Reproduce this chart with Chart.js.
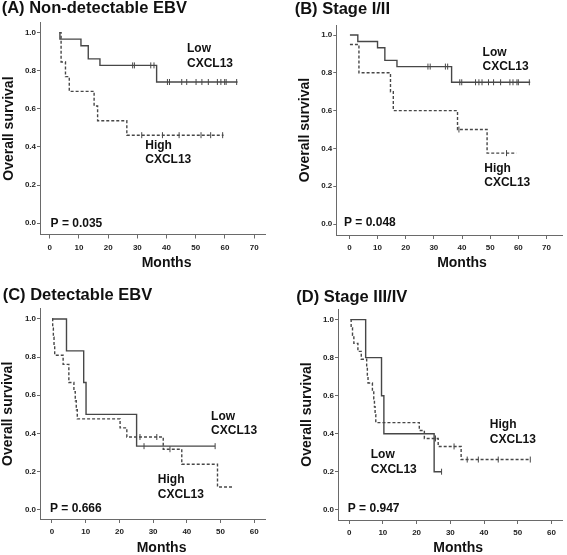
<!DOCTYPE html>
<html>
<head>
<meta charset="utf-8">
<script src="https://cdn.jsdelivr.net/npm/chart.js@4.4.1/dist/chart.umd.min.js"></script>
<style>
  html, body { margin: 0; padding: 0; background: #fff; }
  #wrap { position: relative; width: 567px; height: 555px; }
  #wrap canvas { position: absolute; }
</style>
</head>
<body>
<div id="wrap">
  <canvas id="cA" width="283" height="277" style="left:0;top:0"></canvas>
  <canvas id="cB" width="284" height="277" style="left:283px;top:0"></canvas>
  <canvas id="cC" width="283" height="278" style="left:0;top:277px"></canvas>
  <canvas id="cD" width="284" height="278" style="left:283px;top:277px"></canvas>
</div>
<script>
// tick labels
const xTicks70 = [0, 10, 20, 30, 40, 50, 60, 70];
const xTicks60 = [0, 10, 20, 30, 40, 50, 60];
const yTicks = [0, 0.2, 0.4, 0.6, 0.8, 1.0];

// (A) Non-detectable EBV
const aLowMonths = [3.3, 3.5, 10.7, 13.2, 17.2, 36.6, 64.3];
const aLowSurv = [1, 0.966, 0.931, 0.862, 0.828, 0.741, 0.741];
const aLowCensor = [28.4, 29.0, 34.6, 35.7, 40.3, 41.0, 45.2, 46.9, 50.1, 52.1, 54.3, 57.4, 58.6, 59.9, 60.4, 64.0];
const aHighMonths = [3.3, 3.9, 5.4, 6.7, 15.2, 16.4, 26.4, 59.5];
const aHighSurv = [1, 0.846, 0.769, 0.692, 0.615, 0.538, 0.462, 0.462];
const aHighCensor = [31.5, 38.6, 44.3, 51.8, 55.1, 59.2];

// (B) Stage I/II
const bLowMonths = [0.2, 3.0, 10.0, 12.6, 16.9, 36.3, 64.2];
const bLowSurv = [1, 0.966, 0.933, 0.866, 0.833, 0.75, 0.75];
const bLowCensor = [27.9, 28.7, 34.1, 34.9, 39.2, 39.9, 44.8, 46.0, 47.1, 49.4, 51.2, 53.7, 57.0, 58.1, 59.5, 60.0, 63.9];
const bHighMonths = [0.2, 3.4, 14.6, 15.6, 38.4, 48.9, 59.3];
const bHighSurv = [0.95, 0.80, 0.70, 0.60, 0.50, 0.375, 0.375];
const bHighCensor = [38.9, 55.8];

// (C) Detectable EBV
const cLowMonths = [0, 4.3, 9.4, 10.1, 25.1, 48.4];
const cLowSurv = [1, 0.833, 0.667, 0.5, 0.333, 0.333];
const cLowCensor = [27.3, 48.4];
const cHighMonths = [0, 0.2, 0.4, 0.6, 0.8, 3.3, 5.0, 6.5, 6.9, 7.2, 7.5, 20.2, 22.2, 33.0, 38.5, 49.1, 53.8];
const cHighSurv = [1, 0.952, 0.905, 0.857, 0.810, 0.762, 0.667, 0.619, 0.571, 0.524, 0.476, 0.429, 0.381, 0.317, 0.238, 0.119, 0.119];
const cHighCensor = [26.1, 31.1, 35.0];

// (D) Stage III/IV
const dLowMonths = [0.4, 4.9, 9.6, 10.3, 25.2, 27.4];
const dLowSurv = [1, 0.8, 0.6, 0.4, 0.2, 0.2];
const dLowCensor = [27.4];
const dHighMonths = [0.4, 0.6, 1.0, 1.4, 2.6, 3.6, 5.2, 5.4, 5.6, 6.9, 7.3, 7.5, 7.7, 7.9, 20.8, 22.3, 26.4, 33.2, 53.7];
const dHighSurv = [1, 0.958, 0.917, 0.875, 0.833, 0.792, 0.75, 0.708, 0.667, 0.625, 0.583, 0.542, 0.5, 0.458, 0.417, 0.375, 0.333, 0.264, 0.264];
const dHighCensor = [25.6, 31.1, 35.0, 38.3, 44.2, 53.7];

const FONT = '"Liberation Sans", Arial, sans-serif';
const LINE = '#474747';
const AXIS = '#6a6a6a';

// layout of each panel (pixels inside its own canvas)
const panels = [
  { id: 'cA', title: '(A) Non-detectable EBV', p: 'P = 0.035',
    low: [aLowMonths, aLowSurv, aLowCensor], high: [aHighMonths, aHighSurv, aHighCensor],
    xMin: -3.32, xMax: 73.7, xTicks: xTicks70, yMin: -0.059, yMax: 1.052,
    area: { left: 40, right: 265, top: 22.7, bottom: 234.5 }, padLeft: 1.7, titlePad: 0, yTitlePad: 0.6,
    pAt: [0.3, 0], lowAt: [47.0, 0.916, 0.839], highAt: [32.7, 0.406, 0.332], monthsAt: 40, monthsBottom: 14 },
  { id: 'cB', title: '(B) Stage I/II', p: 'P = 0.048',
    low: [bLowMonths, bLowSurv, bLowCensor], high: [bHighMonths, bHighSurv, bHighCensor],
    xMin: -4.64, xMax: 75.5, xTicks: xTicks70, yMin: -0.058, yMax: 1.053,
    area: { left: 53.3, right: 283, top: 25, bottom: 235 }, padLeft: 11.7, titlePad: 1.5, yTitlePad: 3.8,
    pAt: [-1.9, 0.007], lowAt: [47.3, 0.908, 0.832], highAt: [47.9, 0.295, 0.219], monthsAt: 40, monthsBottom: 14 },
  { id: 'cC', title: '(C) Detectable EBV', p: 'P = 0.666',
    low: [cLowMonths, cLowSurv, cLowCensor], high: [cHighMonths, cHighSurv, cHighCensor],
    xMin: -3.56, xMax: 63.4, xTicks: xTicks60, yMin: -0.049, yMax: 1.054,
    area: { left: 40, right: 265.7, top: 31.7, bottom: 242 }, padLeft: 2.7, titlePad: 10.3, yTitlePad: -1.9,
    pAt: [-0.6, 0.005], lowAt: [47.2, 0.486, 0.413], highAt: [31.4, 0.157, 0.081], monthsAt: 32.5, monthsBottom: 7 },
  { id: 'cD', title: '(D) Stage III/IV', p: 'P = 0.947',
    low: [dLowMonths, dLowSurv, dLowCensor], high: [dHighMonths, dHighSurv, dHighCensor],
    xMin: -3.3, xMax: 63.1, xTicks: xTicks60, yMin: -0.054, yMax: 1.056,
    area: { left: 55, right: 282, top: 32, bottom: 243 }, padLeft: 13.3, titlePad: 12, yTitlePad: 3.9,
    pAt: [-0.4, 0.005], lowAt: [6.4, 0.289, 0.213], highAt: [41.7, 0.447, 0.368], monthsAt: 32.3, monthsBottom: 7 }
];

// survival value of a step curve at time t
function survAt(t, months, surv) {
  let s = surv[0];
  months.forEach((m, i) => { if (m <= t) s = surv[i]; });
  return s;
}

// labels, P value and x title
const panelText = {
  id: 'panelText',
  afterDraw(chart, args, opts) {
    const { ctx, scales: { x, y } } = chart;
    ctx.save();
    ctx.fillStyle = '#111';
    ctx.textBaseline = 'middle';
    ctx.textAlign = 'left';
    ctx.font = 'bold 12px ' + FONT;
    opts.items.forEach(it => ctx.fillText(it.text, x.getPixelForValue(it.x), y.getPixelForValue(it.y)));
    ctx.font = 'bold 14px ' + FONT;
    ctx.textAlign = 'center';
    ctx.fillText('Months', x.getPixelForValue(opts.monthsAt), chart.height - opts.monthsBottom);
    ctx.restore();
  }
};

panels.forEach(pn => {
  const W = document.getElementById(pn.id).width;
  const H = document.getElementById(pn.id).height;
  const [lt, ls, lc] = pn.low;
  const [ht, hs, hc] = pn.high;

  new Chart(document.getElementById(pn.id), {
    type: 'line',
    data: {
      datasets: [
        { data: lt.map((t, i) => ({ x: t, y: ls[i] })), stepped: 'before',
          borderColor: LINE, borderWidth: 1.4, pointRadius: 0, fill: false },
        { data: ht.map((t, i) => ({ x: t, y: hs[i] })), stepped: 'before',
          borderColor: LINE, borderWidth: 1.4, borderDash: [3, 2], pointRadius: 0, fill: false },
        { data: lc.map(t => ({ x: t, y: survAt(t, lt, ls) })), showLine: false,
          pointStyle: 'line', rotation: 90, pointRadius: 3, borderColor: LINE, borderWidth: 1 },
        { data: hc.map(t => ({ x: t, y: survAt(t, ht, hs) })), showLine: false,
          pointStyle: 'line', rotation: 90, pointRadius: 3, borderColor: LINE, borderWidth: 1 }
      ]
    },
    options: {
      responsive: false,
      animation: false,
      layout: { padding: { left: pn.padLeft, right: W - pn.area.right, top: 0, bottom: 0 } },
      scales: {
        x: {
          type: 'linear', min: pn.xMin, max: pn.xMax,
          afterBuildTicks: axis => { axis.ticks = pn.xTicks.map(v => ({ value: v })); },
          afterFit: scale => { scale.height = H - pn.area.bottom; },
          grid: { drawOnChartArea: false, drawTicks: true, tickLength: 4, color: AXIS },
          border: { display: true, color: AXIS, width: 1 },
          ticks: { font: { family: FONT, size: 8, weight: 'bold' }, color: '#222', padding: 4, maxRotation: 0 }
        },
        y: {
          type: 'linear', min: pn.yMin, max: pn.yMax,
          afterBuildTicks: axis => { axis.ticks = yTicks.map(v => ({ value: v })); },
          afterFit: scale => { scale.width = pn.area.left - pn.padLeft; },
          grid: { drawOnChartArea: false, drawTicks: true, tickLength: 3, color: AXIS },
          border: { display: true, color: AXIS, width: 1 },
          ticks: { font: { family: FONT, size: 8, weight: 'bold' }, color: '#222', padding: 1,
            callback: v => v.toFixed(1) },
          title: { display: true, text: 'Overall survival', color: '#111',
            font: { family: FONT, size: 14, weight: 'bold', lineHeight: 1 },
            padding: { top: pn.yTitlePad, bottom: 0 } }
        }
      },
      plugins: {
        legend: { display: false },
        tooltip: { enabled: false },
        title: { display: true, text: pn.title, align: 'start', color: '#111',
          font: { family: FONT, size: 16.5, weight: 'bold', lineHeight: 1 },
          padding: { top: pn.titlePad, bottom: pn.area.top - 16.5 - pn.titlePad } },
        panelText: {
          monthsAt: pn.monthsAt, monthsBottom: pn.monthsBottom,
          items: [
            { text: 'Low', x: pn.lowAt[0], y: pn.lowAt[1] },
            { text: 'CXCL13', x: pn.lowAt[0], y: pn.lowAt[2] },
            { text: 'High', x: pn.highAt[0], y: pn.highAt[1] },
            { text: 'CXCL13', x: pn.highAt[0], y: pn.highAt[2] },
            { text: pn.p, x: pn.pAt[0], y: pn.pAt[1] }
          ]
        }
      }
    },
    plugins: [panelText]
  });
});
</script>
</body>
</html>
